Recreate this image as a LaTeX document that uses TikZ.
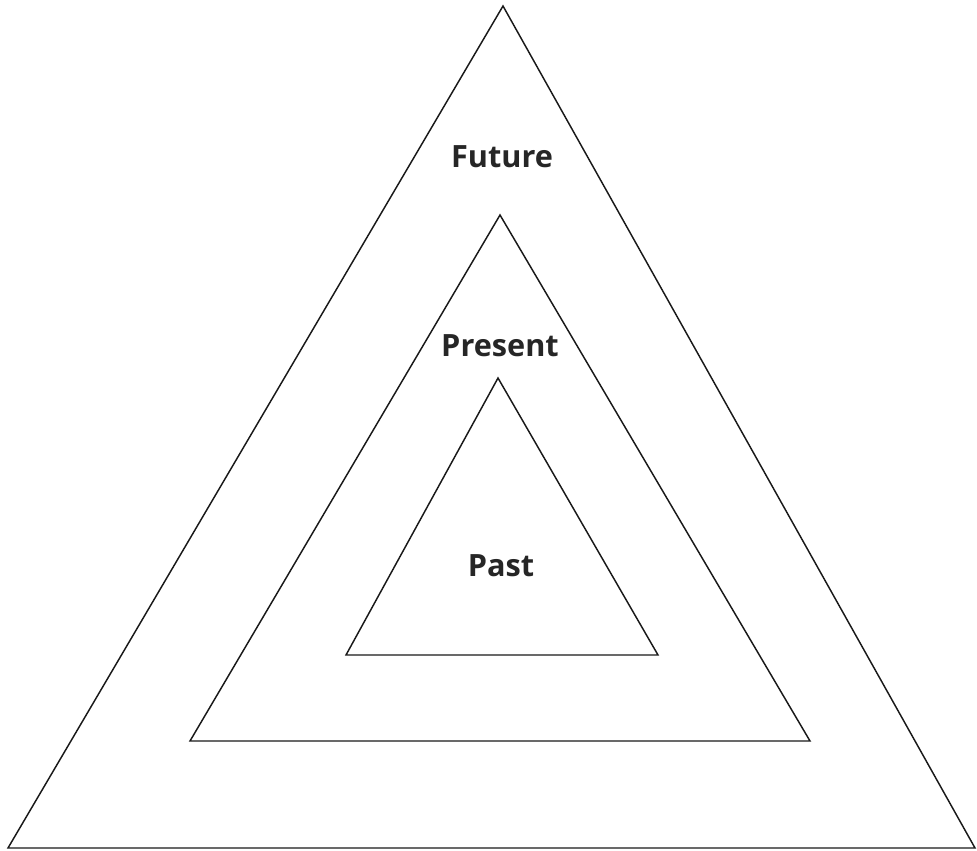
\documentclass[tikz,border=0pt]{standalone}
\usepackage{fontspec}
\setsansfont{Open Sans}
\usepackage{tikz}
\usetikzlibrary{positioning}

\tikzset{
    ring/.style={draw=black!90, line width=1.1pt, line join=miter},
    tense/.style={font=\sffamily\bfseries\fontsize{23}{27}\selectfont, text=black!85}
}

\begin{document}
\begin{tikzpicture}[x=0.75pt, y=-0.75pt]
\useasboundingbox (0,0) rectangle (977,850);
\draw[ring] (503,6) -- (975,848) -- (8,848) -- cycle;
\draw[ring] (500,215) -- (810,741) -- (190,741) -- cycle;
\draw[ring] (498,378) -- (658,655) -- (346,655) -- cycle;
\node[tense] (future) at (502,157) {Future};
\node[tense] (present) at (500,346) {Present};
\node[tense] (past) at (501,566) {Past};
\end{tikzpicture}
\end{document}
